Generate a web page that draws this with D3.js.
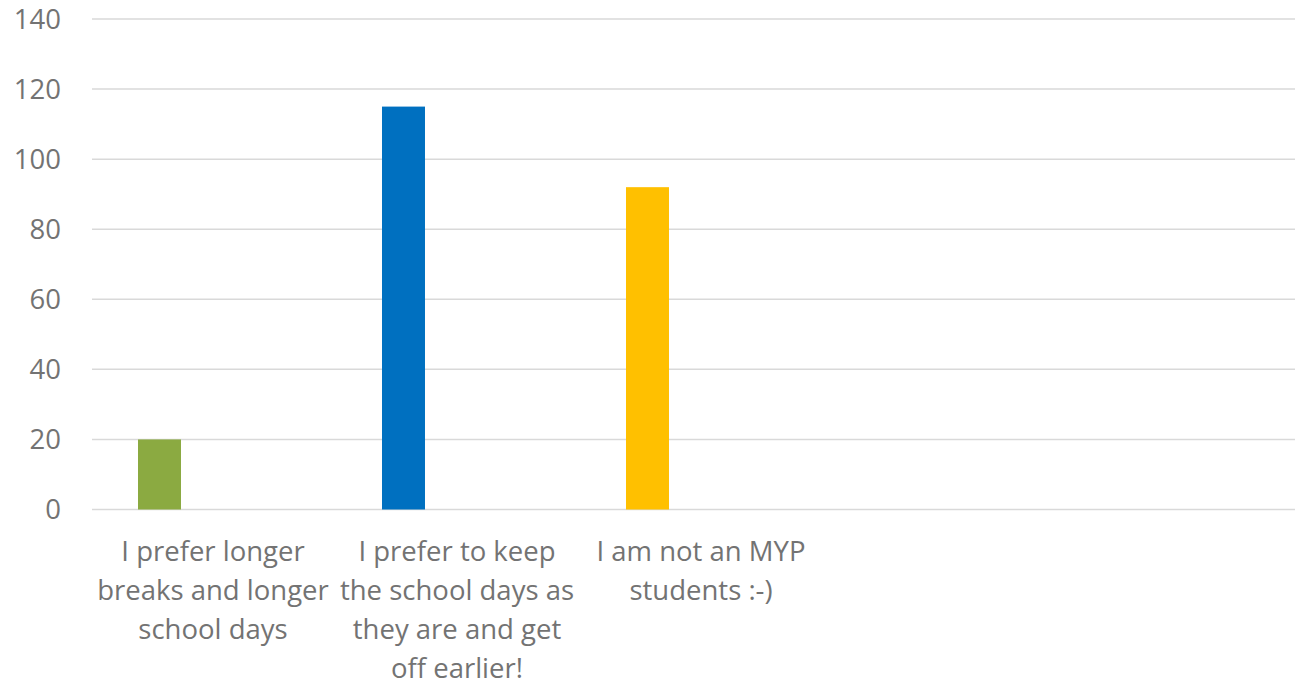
<!DOCTYPE html>
<html><head><meta charset="utf-8">
<script src="https://cdn.jsdelivr.net/npm/d3@7"></script>
<style>html,body{margin:0;padding:0;background:#fff;overflow:hidden}</style>
</head><body>
<script>
const categories = [
  "I prefer longer breaks and longer school days",
  "I prefer to keep the school days as they are and get off earlier!",
  "I am not an MYP students :-)"
];
const values = [20, 115, 92];
const barColors = ["#8BAA41", "#0070C0", "#FFC000"];
const yTicks = [0, 20, 40, 60, 80, 100, 120, 140];
const slotCount = 5;

const W = 1295, H = 682;
const mLeft = 91, mTop = 19, mBottom = 509.5;
const FS = 27.5;
const svg = d3.select("body").append("svg").attr("width", W).attr("height", H);

const slots = d3.range(slotCount);
const x = d3.scaleBand().domain(slots).range([mLeft, mLeft + slotCount * 244]);
const y = d3.scaleLinear().domain([0, 140]).range([mBottom, mTop]);

// gridlines
svg.append("g").selectAll("line").data(yTicks).join("line")
  .attr("x1", mLeft + 1).attr("x2", W)
  .attr("y1", d => y(d)).attr("y2", d => y(d))
  .attr("stroke", "#d9d9d9").attr("stroke-width", 1.5);

// y labels
svg.append("g").selectAll("text").data(yTicks).join("text")
  .attr("x", 61).attr("y", d => y(d)).attr("dy", "0.35em")
  .attr("text-anchor", "end")
  .attr("font-family", "Open Sans").attr("font-size", FS).attr("fill", "#737373")
  .text(d => d);

// bars
const bw = x.bandwidth();
svg.append("g").selectAll("rect").data(values).join("rect")
  .attr("x", (d, i) => x(i) + bw * 0.1926)
  .attr("width", bw * 0.1762)
  .attr("y", d => y(d)).attr("height", d => y(0) - y(d))
  .attr("fill", (d, i) => barColors[i]);

// category labels with wrapping
const maxW = 238;
const lab = svg.append("g");
categories.forEach((c, i) => {
  const cx = x(i) + bw / 2;
  const t = lab.append("text")
    .attr("x", cx).attr("y", 551).attr("text-anchor", "middle")
    .attr("font-family", "Open Sans").attr("font-size", FS).attr("fill", "#737373");
  const words = c.split(" ");
  let line = [];
  let ts = t.append("tspan").attr("x", cx).attr("dy", "0.35em");
  words.forEach(w => {
    line.push(w);
    ts.text(line.join(" "));
    if (ts.node().getComputedTextLength() > maxW && line.length > 1) {
      line.pop();
      ts.text(line.join(" "));
      line = [w];
      ts = t.append("tspan").attr("x", cx).attr("dy", "39px").text(w);
    }
  });
});
</script>
</body></html>
